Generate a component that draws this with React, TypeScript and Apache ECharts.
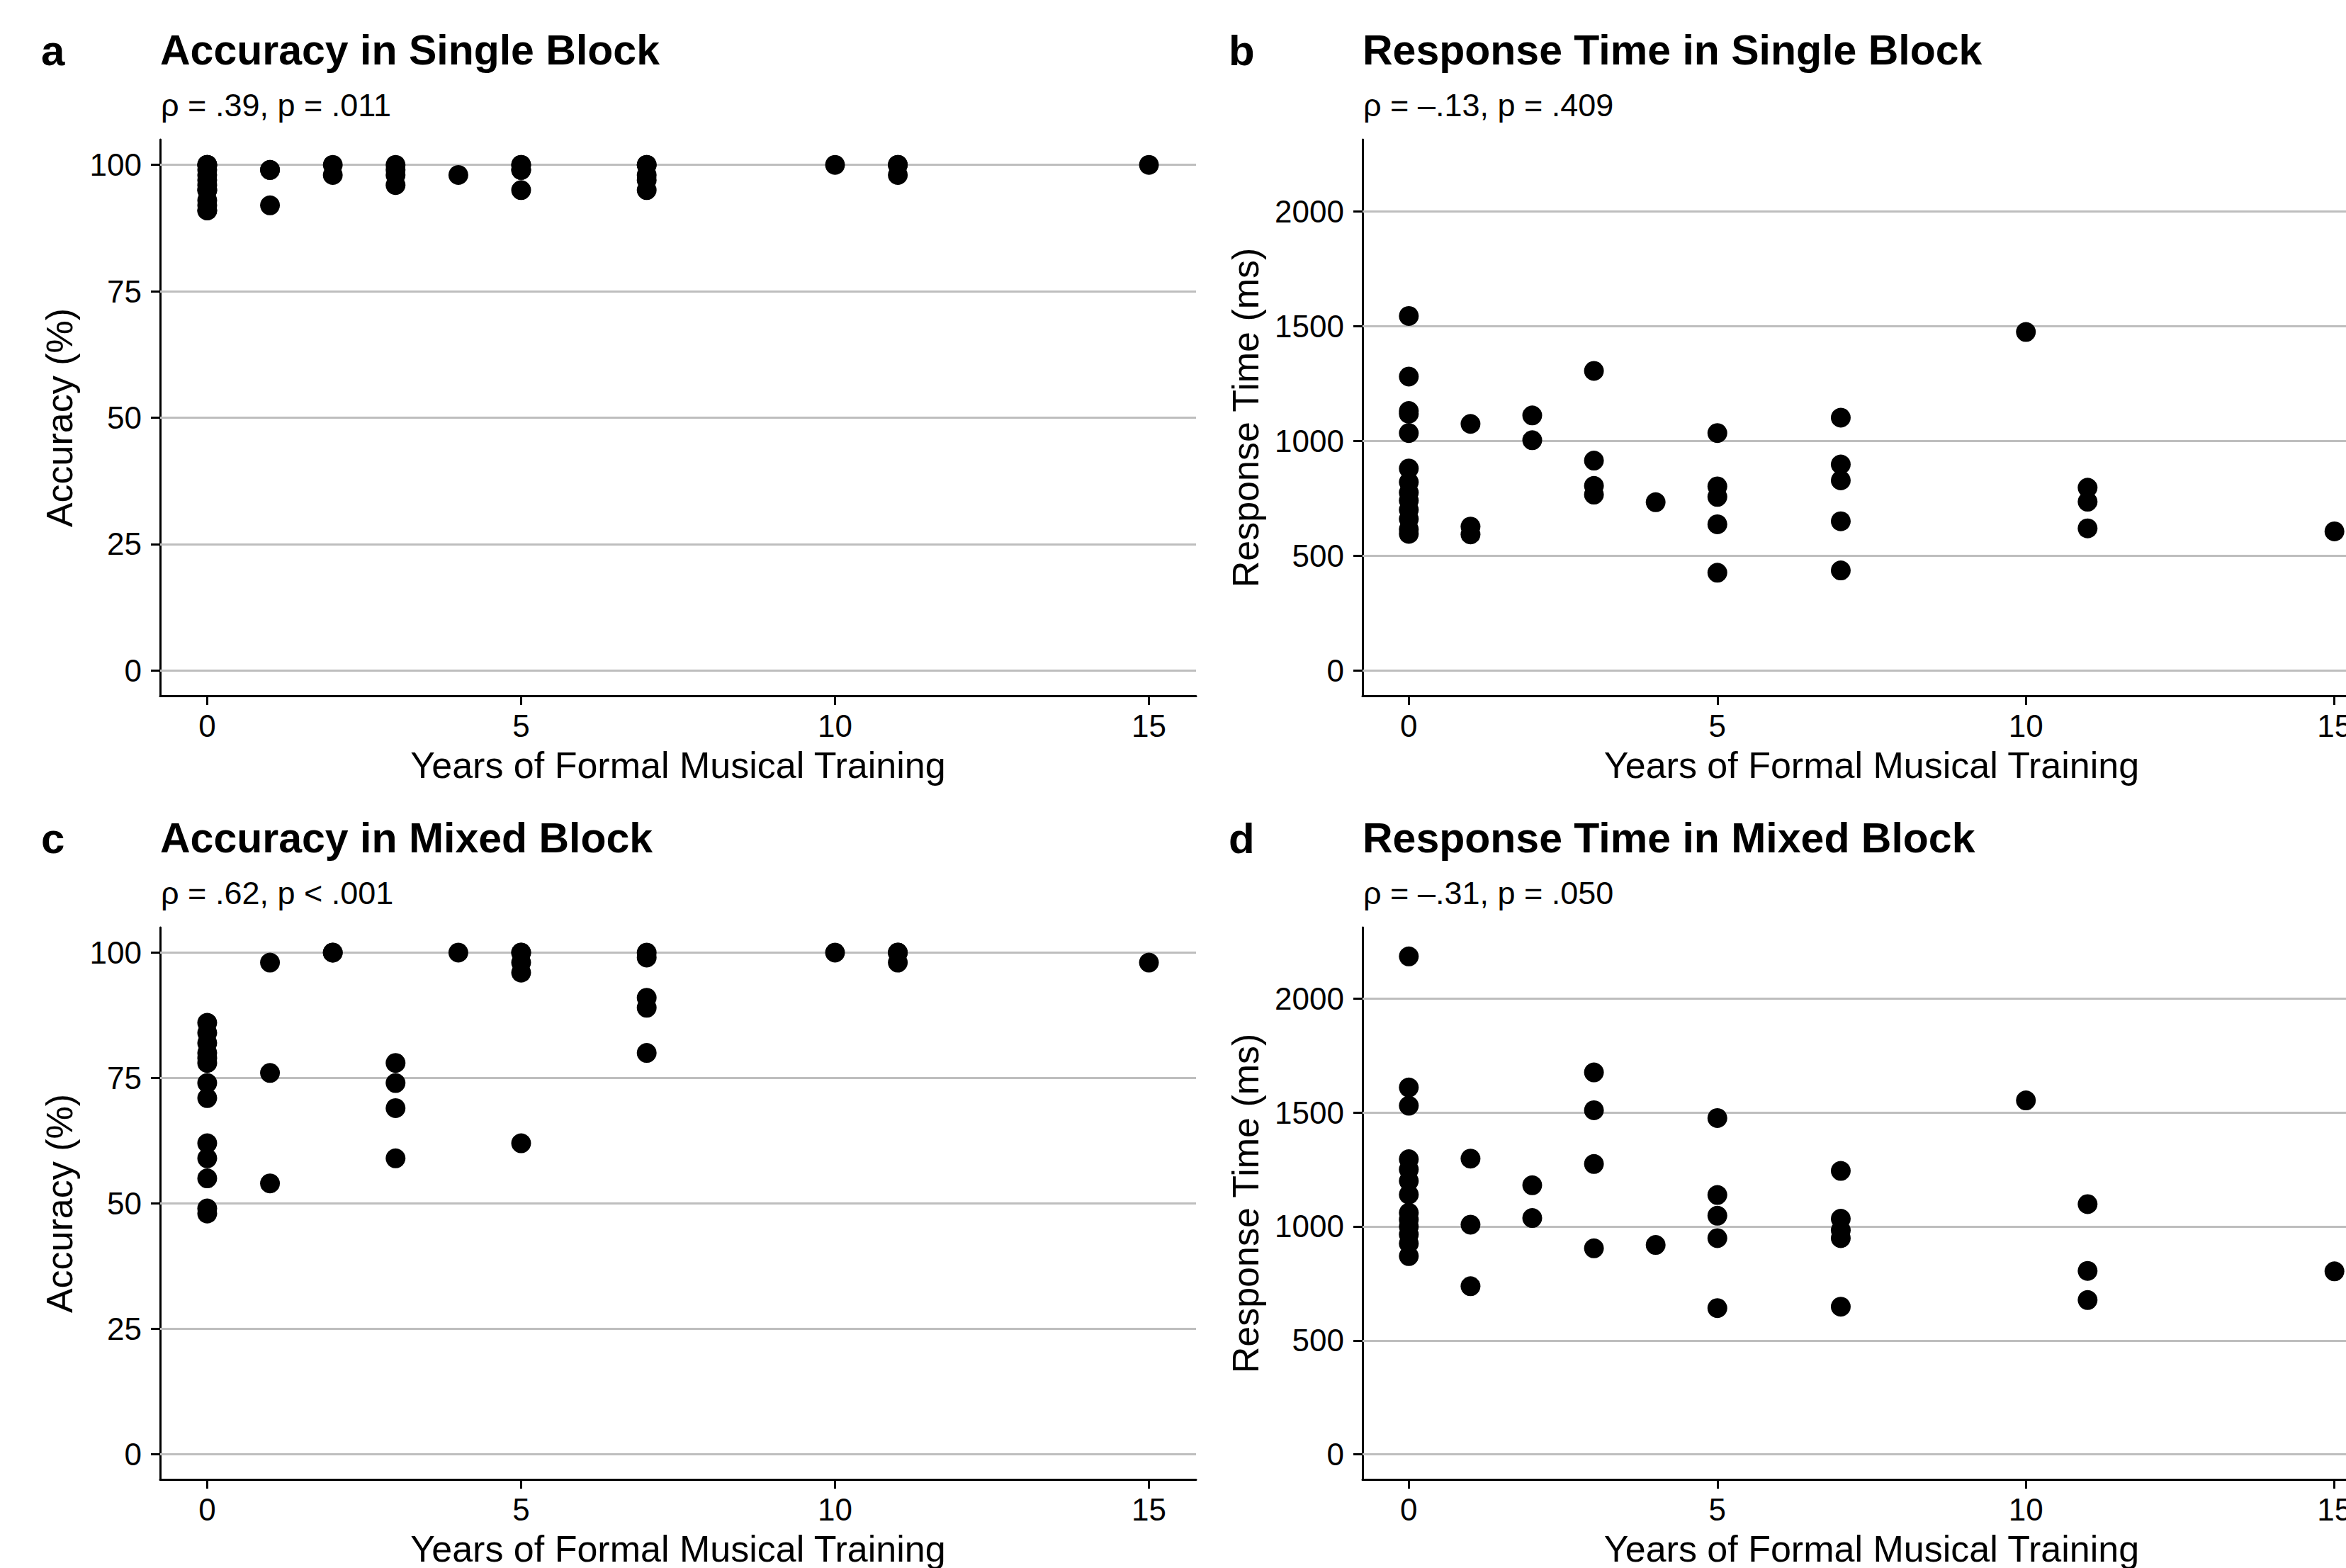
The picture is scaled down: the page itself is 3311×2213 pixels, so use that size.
import React, { useEffect, useRef } from "react";
import * as echarts from "echarts";

// ---------- data ----------
const years = [
  0, 0, 0, 0, 0, 0, 0, 0, 0, 0, 0, 0, 0,
  1, 1, 1,
  2, 2,
  3, 3, 3, 3,
  4,
  5, 5, 5, 5, 5,
  7, 7, 7, 7, 7,
  10,
  11, 11, 11,
  15,
];

const accSingle = [
  100, 100, 100, 99, 98, 97, 96, 95, 95, 93, 92, 91, 91,
  99, 99, 92,
  100, 98,
  100, 99, 98, 96,
  98,
  100, 100, 99, 99, 95,
  100, 100, 98, 97, 95,
  100,
  100, 100, 98,
  100,
];

const rtSingle = [
  1544, 1280, 1130, 1118, 1034, 880, 820, 775, 740, 700, 660, 615, 595,
  1074, 627, 593,
  1111, 1003,
  1305, 914, 804, 766,
  733,
  1034, 802, 756, 637, 426,
  1101, 897, 828, 650, 436,
  1474,
  796, 735, 619,
  606,
];

const accMixed = [
  86, 84, 82, 80, 79, 78, 74, 71, 62, 59, 55, 49, 48,
  98, 76, 54,
  100, 100,
  78, 74, 69, 59,
  100,
  100, 100, 98, 96, 62,
  100, 99, 91, 89, 80,
  100,
  100, 100, 98,
  98,
];

const rtMixed = [
  2185, 1610, 1530, 1295, 1250, 1200, 1140, 1060, 1030, 1000, 965, 925, 870,
  1298, 1008, 738,
  1181, 1037,
  1676, 1510, 1274, 904,
  919,
  1476, 1138, 1047, 949, 642,
  1244, 1034, 984, 949, 648,
  1553,
  1098, 805, 677,
  803,
];

const xTicks = [0, 5, 10, 15];
const accTicks = [0, 25, 50, 75, 100];
const rtTicks = [0, 500, 1000, 1500, 2000];

const letters = ["a", "b", "c", "d"];
const titles = [
  "Accuracy in Single Block",
  "Response Time in Single Block",
  "Accuracy in Mixed Block",
  "Response Time in Mixed Block",
];
const subtitles = [
  "ρ = .39, p = .011",
  "ρ = –.13, p = .409",
  "ρ = .62, p < .001",
  "ρ = –.31, p = .050",
];
const xName = "Years of Formal Musical Training";
const yNames = ["Accuracy (%)", "Response Time (ms)", "Accuracy (%)", "Response Time (ms)"];

const FONT = "'Liberation Sans', Arial, Helvetica, sans-serif";

export default function App() {
  const ref = useRef<HTMLDivElement>(null);

  useEffect(() => {
    if (!ref.current) return;
    const chart = echarts.init(ref.current, undefined, { renderer: "svg" });

    const values = [accSingle, rtSingle, accMixed, rtMixed];
    const yTicksList = [accTicks, rtTicks, accTicks, rtTicks];
    const yRanges = [
      [-5, 105],
      [-110, 2312],
      [-5, 105],
      [-110, 2312],
    ];
    const grids = [
      { left: 226, top: 197, width: 1462, height: 785 },
      { left: 1923, top: 197, width: 1437, height: 785 },
      { left: 226, top: 1309, width: 1462, height: 786 },
      { left: 1923, top: 1309, width: 1437, height: 786 },
    ];
    const nameGaps = [116, 139, 116, 139];
    const textX = [226, 1923, 226, 1923];
    const letterX = [58, 1734, 58, 1734];
    const titleY = [71, 71, 1183, 1183];
    const subY = [148, 148, 1260, 1260];

    const axisLine = { show: true, onZero: false, lineStyle: { color: "#000", width: 3 } };
    const plain = (v: number) => String(v);

    const xAxis = grids.map((_, i) => ({
      type: "value",
      gridIndex: i,
      min: -0.75,
      max: 15.75,
      axisLine,
      axisTick: { show: true, length: 13, lineStyle: { color: "#000", width: 3 }, customValues: xTicks },
      axisLabel: { customValues: xTicks, formatter: plain, fontSize: 44, color: "#000", margin: 20, fontFamily: FONT },
      splitLine: { show: false },
      name: xName,
      nameLocation: "middle",
      nameGap: 72,
      nameTextStyle: { fontSize: 52, color: "#000", fontFamily: FONT },
    }));

    const yAxis = grids.map((_, i) => ({
      type: "value",
      gridIndex: i,
      min: yRanges[i][0],
      max: yRanges[i][1],
      axisLine,
      axisTick: { show: true, length: 13, lineStyle: { color: "#000", width: 3 }, customValues: yTicksList[i] },
      axisLabel: { customValues: yTicksList[i], formatter: plain, fontSize: 44, color: "#000", margin: 26, fontFamily: FONT },
      splitLine: { show: false },
      name: yNames[i],
      nameLocation: "middle",
      nameGap: nameGaps[i],
      nameRotate: 90,
      nameTextStyle: { fontSize: 52, color: "#000", fontFamily: FONT },
    }));

    const series = grids.map((_, i) => ({
      type: "scatter",
      xAxisIndex: i,
      yAxisIndex: i,
      symbol: "circle",
      symbolSize: 28,
      z: 3,
      itemStyle: { color: "#000", opacity: 1 },
      data: years.map((x, k) => [x, values[i][k]]),
      markLine: {
        silent: true,
        z: 1,
        symbol: ["none", "none"],
        label: { show: false },
        lineStyle: { color: "#BEBEBE", width: 3, type: "solid" },
        emphasis: { disabled: true },
        data: yTicksList[i].map((v) => ({ yAxis: v })),
      },
    }));

    const graphic: any[] = [];
    for (let i = 0; i < 4; i++) {
      graphic.push({
        type: "text",
        x: letterX[i],
        y: titleY[i],
        style: { text: letters[i], fontSize: 60, fontWeight: "bold", fontFamily: FONT, fill: "#000", align: "left", verticalAlign: "middle" },
      });
      graphic.push({
        type: "text",
        x: textX[i],
        y: titleY[i],
        style: { text: titles[i], fontSize: 59, fontWeight: "bold", fontFamily: FONT, fill: "#000", align: "left", verticalAlign: "middle" },
      });
      graphic.push({
        type: "text",
        x: textX[i] + 1,
        y: subY[i],
        style: { text: subtitles[i], fontSize: 45, fontFamily: FONT, fill: "#000", align: "left", verticalAlign: "middle" },
      });
    }

    chart.setOption({
      animation: false,
      backgroundColor: "#fff",
      grid: grids,
      xAxis,
      yAxis,
      series,
      graphic,
    });

    return () => chart.dispose();
  }, []);

  return (
    <div
      style={{ position: "fixed", left: 0, top: 0, width: 3311, height: 2213, overflow: "hidden", background: "#fff" }}
    >
      <div ref={ref} style={{ position: "absolute", left: 0, top: 0, width: 3400, height: 2213 }} />
    </div>
  );
}
